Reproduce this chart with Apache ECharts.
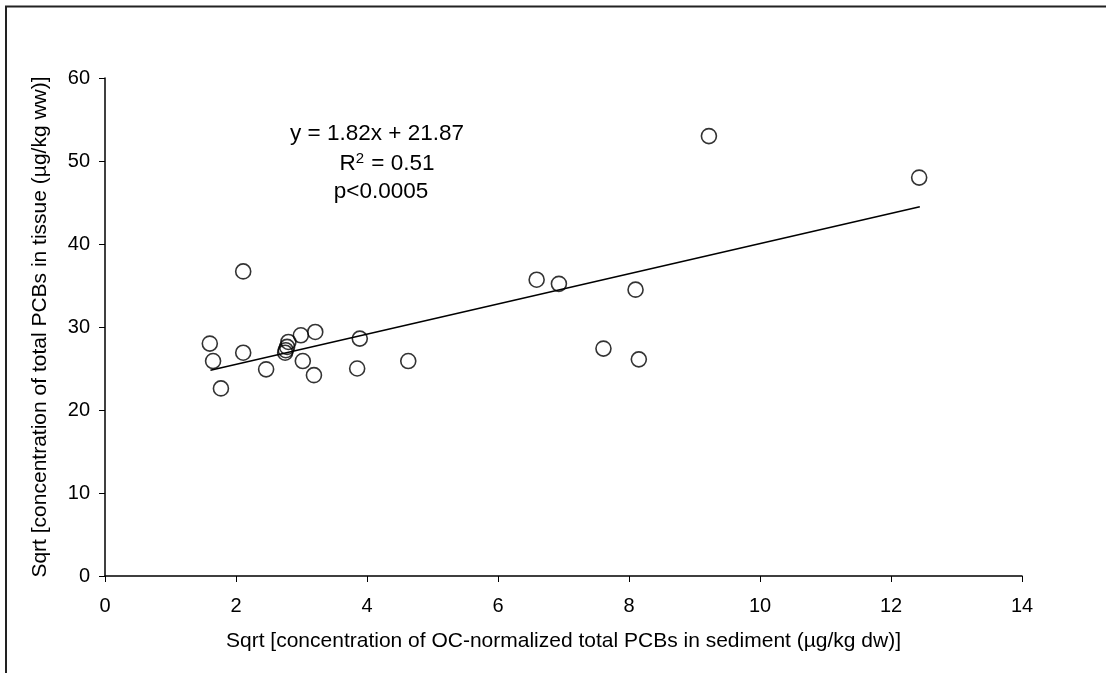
<!DOCTYPE html>
<html>
<head>
<meta charset="utf-8">
<script src="https://cdn.jsdelivr.net/npm/echarts@6/dist/echarts.min.js"></script>
<style>
  html, body { margin: 0; padding: 0; background: #fff; }
  #chart { width: 1106px; height: 673px; }
</style>
</head>
<body>
<div id="chart"></div>
<script>
// sediment (x) vs tissue (y), both sqrt-transformed
const sedimentX = [1.60, 1.65, 1.77, 2.11, 2.11, 2.46, 2.80, 2.78, 2.76, 2.75, 2.99, 3.21, 3.02, 3.19, 3.89, 3.85, 4.63, 6.59, 6.93, 7.61, 8.10, 8.15, 9.22, 12.43]
const tissueY   = [28.0, 25.9, 22.6, 36.7, 26.9, 24.9, 28.2, 27.6, 27.2, 26.9, 29.0, 29.4, 25.9, 24.2, 28.6, 25.0, 25.9, 35.7, 35.2, 27.4, 34.5, 26.1, 53.0, 48.0]

// regression line ends
const fitX = [1.61, 12.44]
const fitY = [24.8, 44.5]

const xTicks = [0, 2, 4, 6, 8, 10, 12, 14]
const yTicks = [0, 10, 20, 30, 40, 50, 60]

const eqLines = ['y = 1.82x + 21.87', 'R{sup|2} = 0.51', 'p<0.0005']

const font = '"Liberation Sans", Arial, sans-serif'

const chart = echarts.init(document.getElementById('chart'))

const points = sedimentX.map((x, i) => [x, tissueY[i]])
const fitLine = fitX.map((x, i) => [x, fitY[i]])

// 每行文字单独放，居中对齐
const eqPos = [[377, 134], [387, 164], [381, 192]]
const eqTexts = eqLines.map((t, i) => ({
  type: 'text',
  x: eqPos[i][0],
  y: eqPos[i][1],
  silent: true,
  style: {
    text: t,
    align: 'center',
    verticalAlign: 'middle',
    fontSize: 22.5,
    fontFamily: font,
    fill: '#000',
    rich: {
      sup: { fontSize: 15, fontFamily: font, fill: '#000', verticalAlign: 'top', padding: [0, 1, 11, 0] }
    }
  }
}))

const option = {
  animation: false,
  backgroundColor: '#fff',
  textStyle: { fontFamily: font },
  grid: { left: 105, right: 84, top: 78, bottom: 97 },
  xAxis: {
    type: 'value',
    min: xTicks[0],
    max: xTicks[xTicks.length - 1],
    interval: 2,
    name: 'Sqrt [concentration of OC-normalized total PCBs in sediment (µg/kg dw)]',
    nameLocation: 'middle',
    nameGap: 55,
    nameTextStyle: { fontSize: 21, color: '#000', fontFamily: font },
    axisLine: { lineStyle: { color: '#000', width: 1.5 } },
    axisTick: { show: true, length: 6, lineStyle: { color: '#000', width: 1 } },
    axisLabel: { fontSize: 20, color: '#000', margin: 20, fontFamily: font },
    splitLine: { show: false }
  },
  yAxis: {
    type: 'value',
    min: yTicks[0],
    max: yTicks[yTicks.length - 1],
    interval: 10,
    name: 'Sqrt [concentration of total PCBs in tissue (µg/kg ww)]',
    nameLocation: 'middle',
    nameGap: 54,
    nameRotate: 90,
    nameTextStyle: { fontSize: 21, color: '#000', fontFamily: font },
    axisLine: { show: true, lineStyle: { color: '#000', width: 1.5 } },
    axisTick: { show: true, length: 6, lineStyle: { color: '#000', width: 1 } },
    axisLabel: { fontSize: 20, color: '#000', margin: 15, fontFamily: font },
    splitLine: { show: false }
  },
  series: [
    {
      type: 'line',
      data: fitLine,
      symbol: 'none',
      lineStyle: { color: '#000', width: 1.5 },
      silent: true,
      z: 1
    },
    {
      type: 'scatter',
      data: points,
      symbol: 'circle',
      symbolSize: 15,
      itemStyle: { color: 'rgba(0,0,0,0)', borderColor: '#000', borderWidth: 1.6 },
      z: 2
    }
  ],
  graphic: [
    // outer frame, runs off the right and bottom
    {
      type: 'rect',
      shape: { x: 6, y: 6.5, width: 1200, height: 800 },
      style: { fill: 'none', stroke: '#222', lineWidth: 2 },
      silent: true
    }
  ].concat(eqTexts)
}

chart.setOption(option)
</script>
</body>
</html>
